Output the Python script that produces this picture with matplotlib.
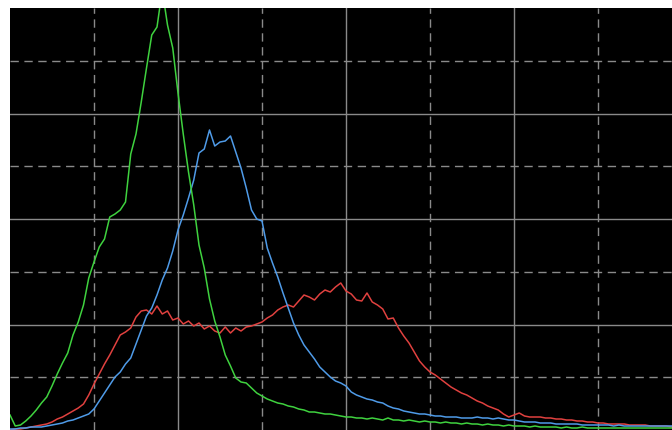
"""
RGB histogram of a photo: red, green and blue channel counts over 0-255,
drawn on a black scope-style grid.
"""

import matplotlib
matplotlib.use('Agg')

import matplotlib.pyplot as plt
import numpy as np

# Channel levels (every second level of 0..255)
levels = np.arange(0, 256, 2)

# Counts per level (arbitrary units, full scale = 422)
green = [
    15, 4, 5, 9, 14, 20, 27, 33, 44, 56,
    67, 77, 95, 108, 125, 152, 168, 183, 191, 213,
    216, 220, 228, 276, 296, 328, 362, 395, 403, 440,
    405, 382, 337, 296, 258, 225, 185, 162, 131, 109,
    93, 75, 64, 52, 48, 47, 42, 37, 34, 31,
    29, 27, 26, 24, 23, 21, 20, 18, 18, 17,
    16, 16, 15, 14, 13, 13, 12, 12, 11, 12,
    11, 10, 12, 10, 10, 9, 10, 9, 8, 9,
    8, 8, 7, 8, 7, 7, 6, 7, 6, 6,
    5, 6, 5, 5, 4, 5, 4, 4, 4, 3,
    4, 3, 3, 3, 3, 2, 3, 2, 2, 3,
    2, 2, 2, 2, 2, 2, 2, 2, 2, 2,
    2, 2, 2, 2, 2, 2, 2, 2,
]
blue = [
    1, 1, 2, 2, 3, 3, 3, 4, 5, 6,
    7, 9, 10, 12, 14, 16, 21, 29, 37, 45,
    53, 58, 66, 72, 86, 100, 114, 122, 135, 150,
    162, 179, 200, 215, 232, 250, 277, 281, 300, 284,
    288, 289, 294, 278, 262, 242, 220, 211, 209, 182,
    167, 153, 137, 122, 107, 95, 85, 78, 71, 63,
    58, 53, 49, 47, 44, 38, 35, 33, 31, 30,
    28, 27, 24, 22, 21, 19, 18, 17, 16, 16,
    15, 14, 14, 13, 13, 13, 12, 12, 12, 13,
    12, 12, 11, 12, 11, 10, 10, 9, 8, 8,
    8, 7, 7, 7, 6, 6, 6, 6, 6, 5,
    5, 5, 5, 5, 5, 4, 5, 4, 4, 4,
    4, 4, 4, 4, 4, 4, 4, 4,
]
red = [
    0, 1, 1, 2, 3, 4, 5, 6, 8, 11,
    13, 16, 19, 22, 26, 35, 46, 56, 66, 75,
    85, 95, 98, 102, 113, 119, 120, 116, 124, 116,
    119, 110, 112, 106, 109, 104, 107, 101, 104, 99,
    97, 103, 97, 102, 99, 103, 104, 106, 108, 112,
    115, 120, 123, 125, 123, 129, 135, 133, 130, 136,
    140, 138, 143, 147, 139, 136, 130, 129, 137, 128,
    125, 121, 111, 112, 102, 94, 87, 78, 69, 63,
    58, 55, 51, 47, 43, 40, 37, 35, 32, 29,
    27, 24, 22, 20, 16, 13, 15, 17, 14, 13,
    13, 13, 12, 12, 11, 11, 10, 10, 9, 9,
    8, 8, 7, 7, 6, 6, 6, 6, 5, 5,
    5, 5, 4, 4, 4, 4, 3, 3,
]

channel_colors = {'red': '#e0413f', 'blue': '#4f9be8', 'green': '#3fd23f'}


def main():
    fig = plt.figure(figsize=(6.72, 4.30), dpi=100, facecolor='white')
    # plot area starts 10px from the left and 8px from the top,
    # and runs past the right edge of the picture
    ax = fig.add_axes([10 / 672, 0, 672 / 672, 422 / 430])
    ax.set_facecolor('black')

    ax.plot(levels, red, color=channel_colors['red'], lw=1.1, zorder=3)
    ax.plot(levels, blue, color=channel_colors['blue'], lw=1.1, zorder=4)
    ax.plot(levels, green, color=channel_colors['green'], lw=1.1, zorder=5)

    ax.set_xlim(0, 256)
    ax.set_ylim(0, 422)

    ax.set_xticks([64, 128, 192])
    ax.set_xticks([32, 96, 160, 224], minor=True)
    ax.set_yticks([105.5, 211, 316.5])
    ax.set_yticks([52.75, 158.25, 263.75, 369.25], minor=True)
    ax.grid(which='major', color='#8a8a8a', lw=1.0, ls='-')
    ax.grid(which='minor', color='#8a8a8a', lw=1.0, ls=(0, (6, 4)))
    ax.set_axisbelow(True)
    ax.tick_params(which='both', length=0, labelbottom=False, labelleft=False)
    for spine in ax.spines.values():
        spine.set_visible(False)

    fig.savefig('out.png', dpi=100, facecolor='white')
    plt.close(fig)


if __name__ == "__main__":
    main()
